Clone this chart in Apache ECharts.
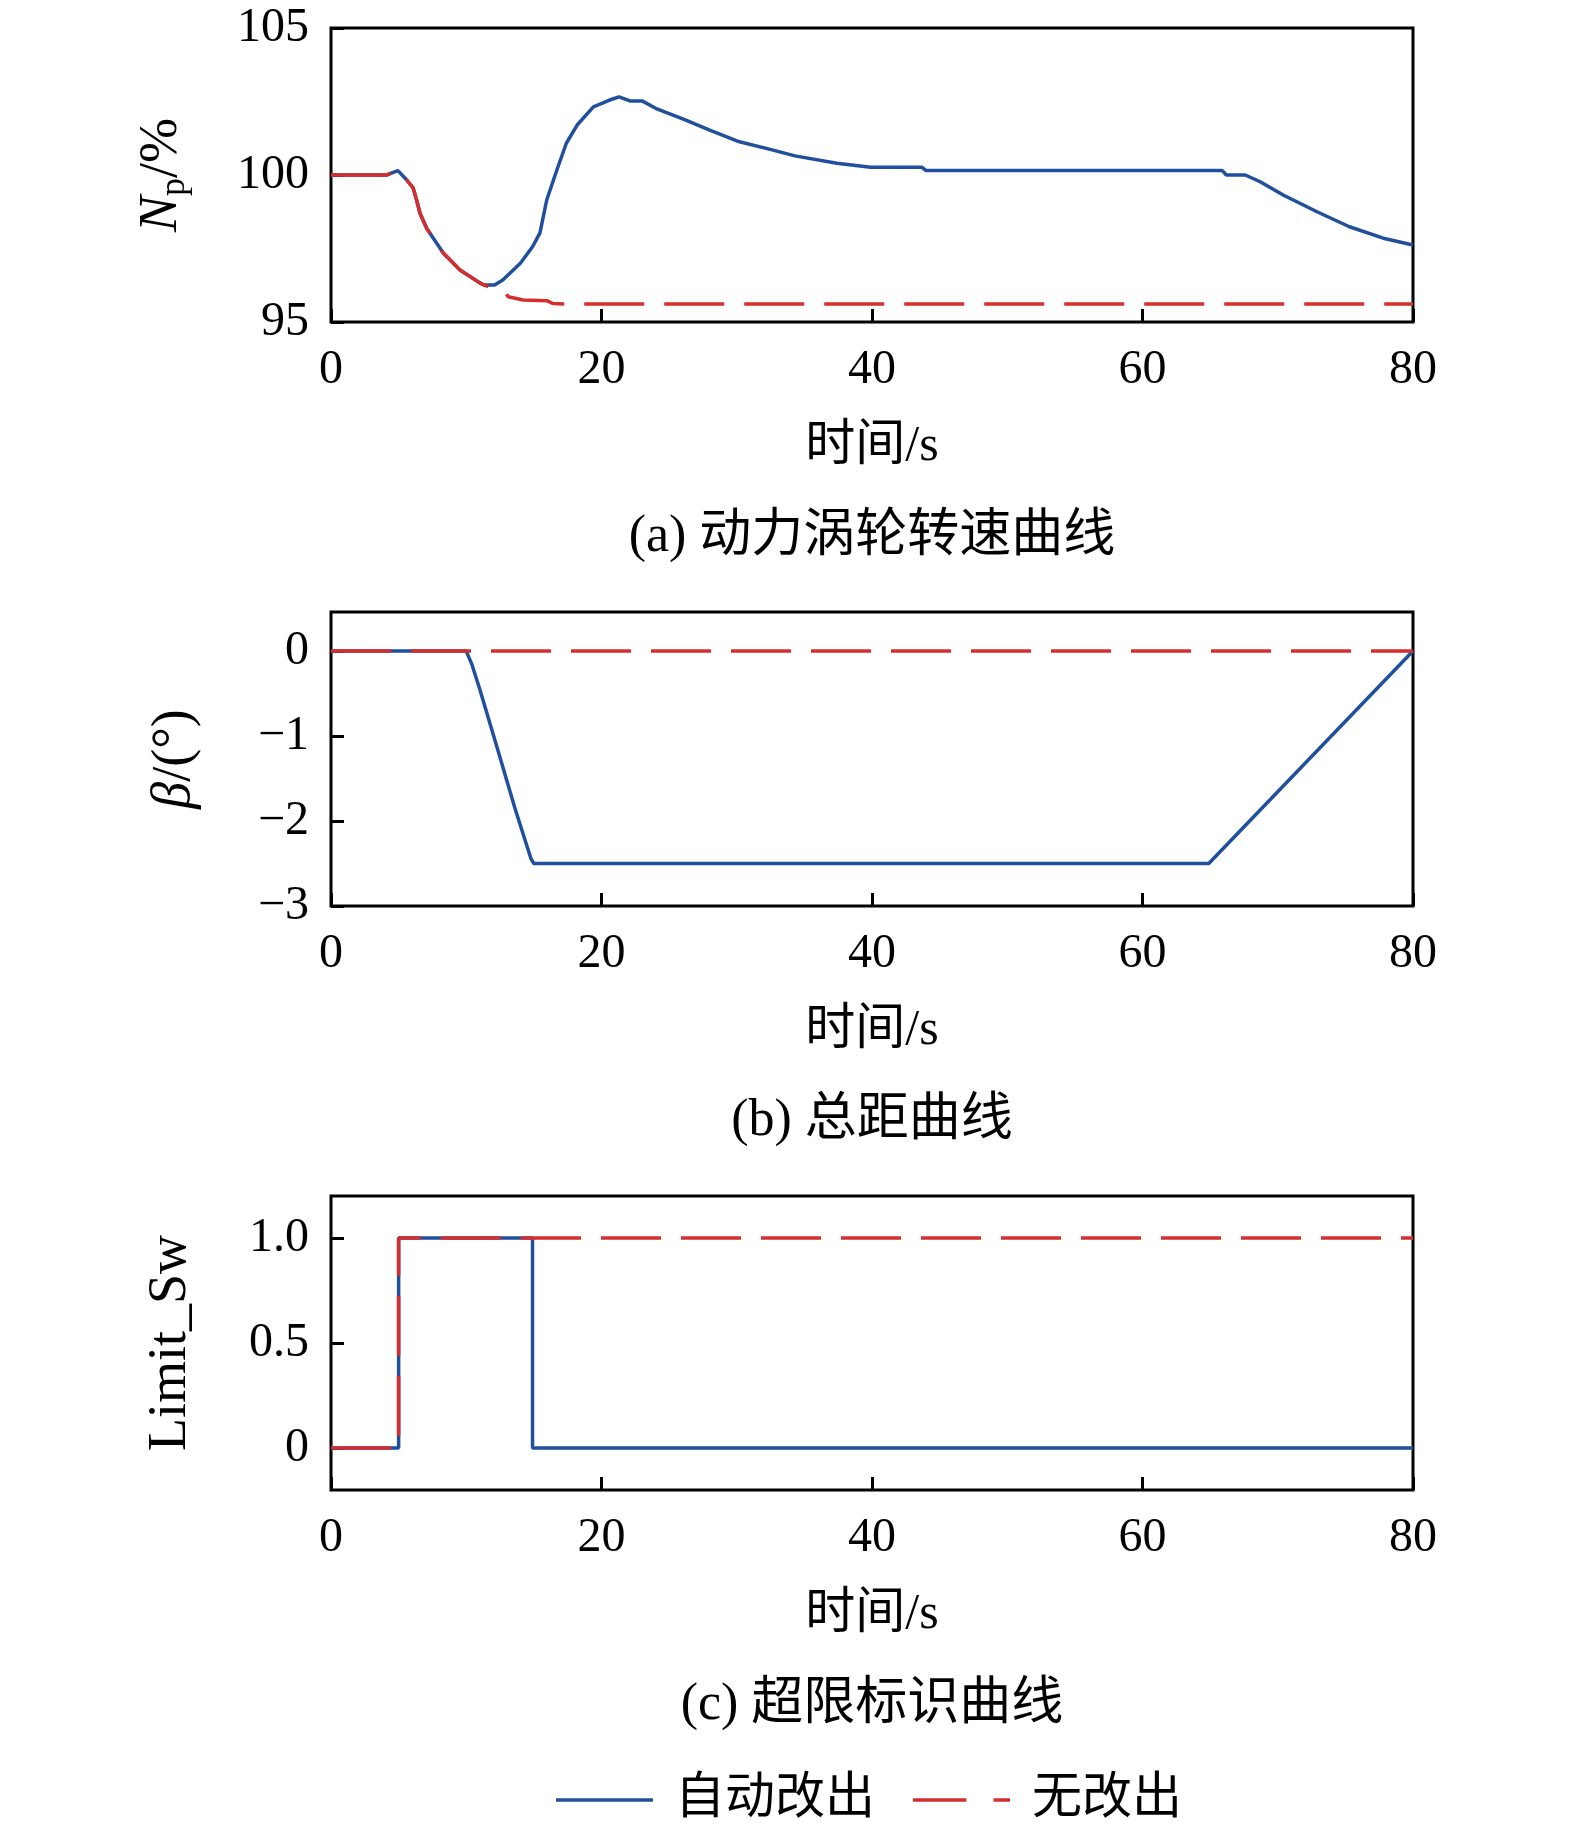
<!DOCTYPE html>
<html><head><meta charset="utf-8">
<script src="https://cdn.jsdelivr.net/npm/echarts@6/dist/echarts.min.js"></script>
<style>html,body{margin:0;padding:0;background:#fff}#c{width:1575px;height:1828px}</style>
</head><body><div id="c"></div>
<script>
// ---- Data ----
// (a) power turbine speed Np/%
const timeNpAuto = [0, 4.1, 4.95, 5.6, 6.07, 6.33, 6.58, 7.07, 8.3, 9.54, 11.0, 11.3, 12.1, 12.7, 14.0, 14.9, 15.45, 15.95, 16.7, 17.4, 18.2, 19.4, 20.6, 21.3, 22.1, 23.0, 24.0, 26.1, 28.0, 30.2, 32.4, 34.3, 37.4, 39.9, 43.7, 44.0, 65.9, 66.2, 67.6, 68.7, 70.4, 72.9, 75.3, 77.8, 80];
const npAuto = [100, 100, 100.15, 99.83, 99.56, 99.15, 98.7, 98.19, 97.35, 96.77, 96.33, 96.26, 96.26, 96.43, 97.0, 97.56, 98.03, 99.15, 100.17, 101.08, 101.7, 102.32, 102.55, 102.66, 102.52, 102.52, 102.27, 101.89, 101.53, 101.13, 100.88, 100.65, 100.4, 100.26, 100.26, 100.15, 100.15, 100.0, 100.0, 99.77, 99.32, 98.75, 98.24, 97.85, 97.62];
const timeNpNone = [0, 4.1, 4.95, 5.6, 6.07, 6.33, 6.58, 7.07, 8.3, 9.54, 11.0, 11.3, 12.2, 12.9, 13.1, 14.2, 16.0, 16.4, 17.5, 80];
const npNone = [100, 100, 100.15, 99.83, 99.56, 99.15, 98.7, 98.19, 97.35, 96.77, 96.33, 96.26, 96.12, 95.99, 95.86, 95.75, 95.72, 95.63, 95.61, 95.61];
// (b) collective pitch beta/deg
const timeBetaAuto = [0, 10.0, 10.4, 11.0, 12.4, 13.6, 14.8, 15.0, 64.9, 80];
const betaAuto = [0, 0, -0.15, -0.45, -1.2, -1.85, -2.45, -2.5, -2.5, 0];
const timeBetaNone = [0, 80];
const betaNone = [0, 0];
// (c) limit switch flag
const timeSwAuto = [0, 5.0, 5.0, 14.9, 14.9, 80];
const swAuto = [0, 0, 1, 1, 0, 0];
const timeSwNone = [0, 5.0, 5.0, 80];
const swNone = [0, 0, 1, 1];
// axis ticks
const xTicks = [0, 20, 40, 60, 80];
const npTicks = [95, 100, 105];
const betaTicks = [-3, -2, -1, 0];
const swTicks = [0, 0.5, 1.0];
const seriesNames = ['自动改出', '无改出'];
const captions = ['(a) 动力涡轮转速曲线', '(b) 总距曲线', '(c) 超限标识曲线'];

const F = "'Liberation Serif', 'Noto Sans CJK SC', serif";
const BLUE = '#1f4f9d', RED = '#d32f2f';
const LW = 3.5;
const pairs = (t, v) => t.map((x, i) => [x, v[i]]);

const grids = [
  {left: 331, top: 28, width: 1082, height: 294},
  {left: 331, top: 612, width: 1082, height: 294},
  {left: 331, top: 1196, width: 1082, height: 294}
].map(g => Object.assign(g, {show: true, borderColor: '#000', borderWidth: 3, backgroundColor: 'transparent'}));

function xAxis(i) {
  return {
    type: 'value', gridIndex: i, min: 0, max: 80, interval: 20,
    axisLine: {show: false, onZero: false},
    axisTick: {show: true, inside: true, length: 13, customValues: xTicks, lineStyle: {width: 3, color: '#000'}},
    axisLabel: {margin: 24, fontSize: 48, fontFamily: F, color: '#000', customValues: xTicks},
    splitLine: {show: false},
    name: '时间/s', nameLocation: 'middle', nameGap: 100,
    nameTextStyle: {fontSize: 50, fontFamily: F, color: '#000'}
  };
}
function fmt(v) {
  let s = String(Math.round(v));
  return s.replace('-', '\u2212');
}
function yAxis(i, min, max, ticks, name, gap, rich, swFmt) {
  return {
    type: 'value', gridIndex: i, min: min, max: max,
    axisLine: {show: false, onZero: false},
    axisTick: {show: true, inside: true, length: 13, customValues: ticks, lineStyle: {width: 3, color: '#000'}},
    axisLabel: {margin: 22, fontSize: 48, fontFamily: F, color: '#000', customValues: ticks,
      formatter: v => swFmt ? (Math.abs(v) < 1e-9 ? '0' : v.toFixed(1)) : fmt(v)},
    splitLine: {show: false},
    name: name, nameLocation: 'middle', nameGap: gap, nameRotate: 90,
    nameTextStyle: {fontSize: 54, fontFamily: F, color: '#000', rich: rich}
  };
}

const lineBase = {type: 'line', symbol: 'none', showSymbol: false, animation: false};
function auto(i, data) {
  return Object.assign({}, lineBase, {name: seriesNames[0], xAxisIndex: i, yAxisIndex: i, data: data, z: 2,
    lineStyle: {color: BLUE, width: LW}, itemStyle: {color: BLUE}});
}
function none(i, data) {
  return Object.assign({}, lineBase, {name: seriesNames[1], xAxisIndex: i, yAxisIndex: i, data: data, z: 3,
    lineStyle: {color: RED, width: LW, type: [60, 20]}, itemStyle: {color: RED}});
}

const chart = echarts.init(document.getElementById('c'), null, {renderer: 'canvas'});
chart.setOption({
  animation: false,
  backgroundColor: '#fff',
  grid: grids,
  xAxis: [xAxis(0), xAxis(1), xAxis(2)],
  yAxis: [
    yAxis(0, 95, 105, npTicks, '{n|N}{s|p}{t|/%}', 138, {
      n: {fontStyle: 'italic', fontSize: 54, fontFamily: F, lineHeight: 62, color: '#000'},
      s: {fontSize: 36, fontFamily: F, lineHeight: 36, verticalAlign: 'bottom', color: '#000'},
      t: {fontSize: 54, fontFamily: F, lineHeight: 62, color: '#000'}
    }),
    yAxis(1, -3, 0.46, betaTicks, '{b|β}{t|/(°)}', 129, {
      b: {fontStyle: 'italic', fontSize: 54, fontFamily: F, color: '#000'},
      t: {fontSize: 54, fontFamily: F, color: '#000'}
    }),
    yAxis(2, -0.2, 1.2, swTicks, 'Limit_Sw', 133, {}, true)
  ],
  legend: {
    data: [
      {name: seriesNames[0], icon: 'path://M0,0H100V3.5H0Z'},
      {name: seriesNames[1], icon: 'path://M0,0H55V3.5H0Z M83,0H100V3.5H83Z'}
    ],
    left: 551, top: 1770, itemWidth: 97, itemHeight: 3.5, itemGap: 38,
    textStyle: {fontSize: 50, fontFamily: F, color: '#000', padding: [0, 0, 0, 17]}
  },
  graphic: captions.map((c, i) => ({
    type: 'text', x: 872, y: 537 + i * 584,
    style: {text: c, fontSize: 52, fontFamily: F, fill: '#000', align: 'center', verticalAlign: 'middle', textAlign: 'center', textVerticalAlign: 'middle'}
  })),
  series: [
    auto(0, pairs(timeNpAuto, npAuto)), none(0, pairs(timeNpNone, npNone)),
    auto(1, pairs(timeBetaAuto, betaAuto)), none(1, pairs(timeBetaNone, betaNone)),
    auto(2, pairs(timeSwAuto, swAuto)), none(2, pairs(timeSwNone, swNone))
  ]
});
</script></body></html>
